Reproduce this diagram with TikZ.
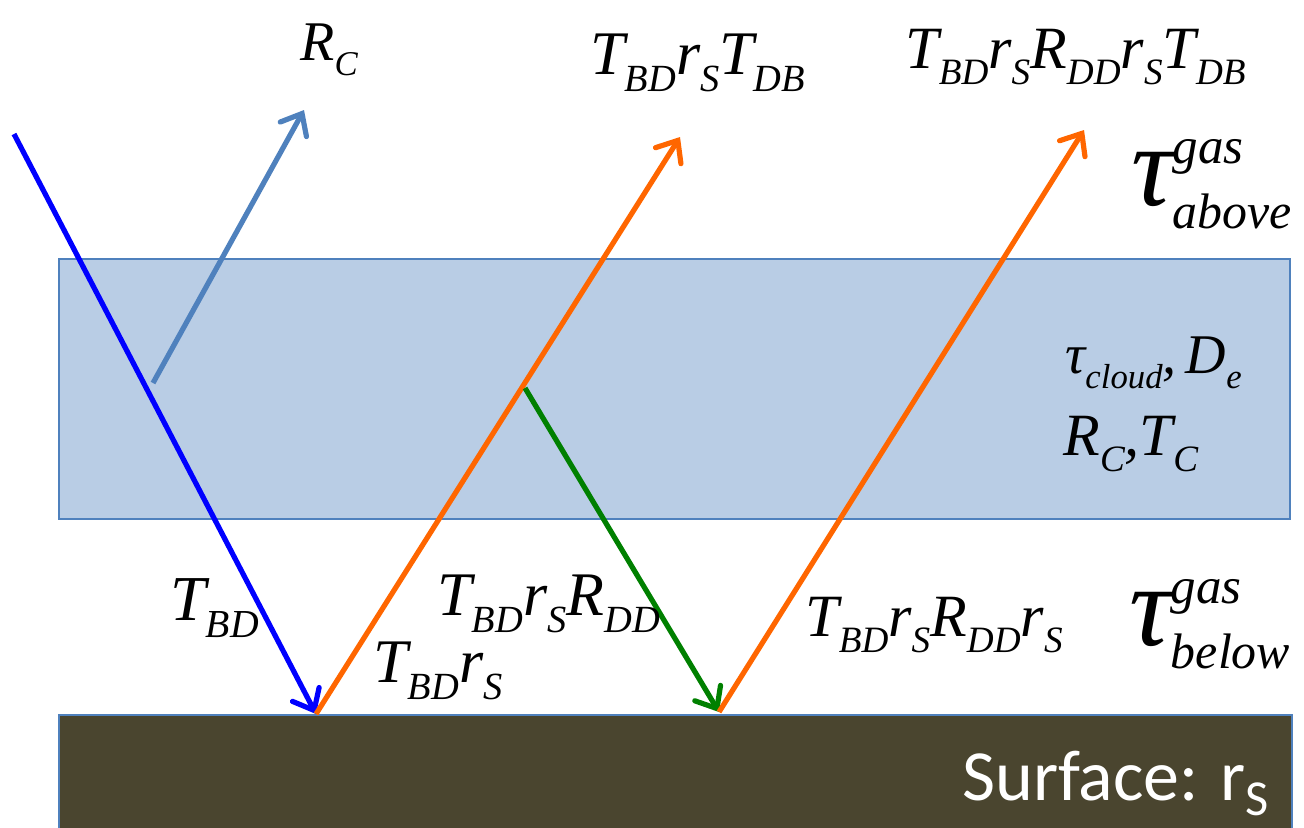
\documentclass[tikz,border=0pt]{standalone}
\usepackage{fontspec}
\newfontfamily\labelserif{Liberation Serif}
\newfontfamily\labelsans{Carlito}
\usetikzlibrary{arrows.meta,positioning}
\definecolor{CloudFill}{HTML}{B9CDE5}
\definecolor{CloudLine}{HTML}{4F81BD}
\definecolor{Ground}{HTML}{4A452F}
\definecolor{RayIn}{HTML}{0000FF}
\definecolor{RayCloud}{HTML}{4F81BD}
\definecolor{RayUp}{HTML}{FF6600}
\definecolor{RayDown}{HTML}{008000}
% sub- and superscripts set as text
\newcommand{\lo}[1]{\raisebox{-0.28em}{\scalebox{0.62}{#1}}}
\newcommand{\hi}[1]{\raisebox{0.36em}{\scalebox{0.44}{#1}}}
\newcommand{\lotau}[1]{\raisebox{-0.2em}{\scalebox{0.43}{#1}}}
\tikzset{
  layer/.style={draw=CloudLine, line width=1pt},
  ray/.style={-{Straight Barb[length=9pt,width=15pt,line cap=round]}, line width=2.6pt},
  lab/.style={anchor=base west, inner sep=0pt, font=\labelserif\itshape\fontsize{30}{36}\selectfont},
  taulab/.style={lab, font=\labelserif\itshape\fontsize{58}{64}\selectfont}
}

\begin{document}
\begin{tikzpicture}[x=0.5pt,y=-0.5pt]
  \useasboundingbox (0,0) rectangle (1304,827);
  % layers
  \draw[layer, fill=CloudFill] (59,259) rectangle (1290,519);
  \draw[layer, fill=Ground] (59,715) rectangle (1292,840);

  % ray end points
  \coordinate (sun) at (14,134);
  \coordinate (hitA) at (316,714);
  \coordinate (hitB) at (719,712);
  \coordinate (cloudA) at (153,383);
  \coordinate (cloudB) at (525,388);
  \coordinate (outC) at (304,110);
  \coordinate (outA) at (680,137);
  \coordinate (outB) at (1084,130);

  \draw[ray, RayIn] (sun) -- (hitA);
  \draw[ray, RayCloud] (cloudA) -- (outC);
  \draw[ray, RayUp] (hitA) -- (outA);
  \draw[ray, RayDown] (cloudB) -- (hitB);
  \draw[ray, RayUp] (hitB) -- (outB);

  % labels
  \node[lab, font=\labelserif\itshape\fontsize{28}{34}\selectfont] (rc) at (300,60) {R\lo{C}};
  \node[lab, font=\labelserif\itshape\fontsize{31}{36}\selectfont] (tup) at (590,74) {T\lo{BD}r\lo{S}T\lo{DB}};
  \node[lab] (tupb) at (905,68) {T\lo{BD}r\lo{S}R\lo{DD}r\lo{S}T\lo{DB}};
  \node[taulab] (gasup) at (1131,205) {τ\rlap{\hi{gas}}\lotau{above}};
  \node[lab, font=\labelserif\itshape\fontsize{28}{33}\selectfont] (cloudtau) at (1065,373) {τ\lo{cloud},\,D\lo{e}};
  \node[lab] (cloudrt) at (1063,455) {R\lo{C},T\lo{C}};
  \node[lab, font=\labelserif\itshape\fontsize{32}{38}\selectfont] (tbd) at (170,620) {T\lo{BD}};
  \node[lab, font=\labelserif\itshape\fontsize{31}{36}\selectfont] (tbdrr) at (437,615) {T\lo{BD}r\lo{S}R\lo{DD}};
  \node[lab, font=\labelserif\itshape\fontsize{31}{36}\selectfont] (tbdr) at (373,682) {T\lo{BD}r\lo{S}};
  \node[lab] (tbdrrr) at (805,636) {T\lo{BD}r\lo{S}R\lo{DD}r\lo{S}};
  \node[taulab] (gasdown) at (1129,645) {τ\rlap{\hi{gas}}\lotau{below}};
  \node[lab, text=white, font=\labelsans\fontsize{36}{42}\selectfont] (surf) at (962,800) {Surface: r\textsubscript{S}};
\end{tikzpicture}
\end{document}
